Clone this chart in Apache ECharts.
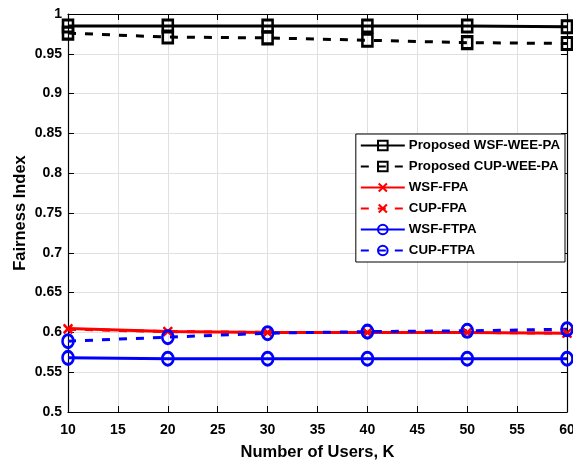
<!DOCTYPE html>
<html>
<head>
<meta charset="utf-8">
<script src="https://cdn.jsdelivr.net/npm/echarts@6/dist/echarts.min.js"></script>
<style>
  html, body { margin: 0; padding: 0; background: #fff; }
  #chart { width: 573px; height: 462px; }
</style>
</head>
<body>
<div id="chart"></div>
<script>
// Number of users K
const users = [10, 20, 30, 40, 50, 60];

// Fairness index per scheme
const wsfWee  = [0.985, 0.985, 0.985, 0.985, 0.985, 0.984];
const cupWee  = [0.976, 0.971, 0.970, 0.967, 0.964, 0.963];
const wsfFpa  = [0.605, 0.601, 0.600, 0.600, 0.600, 0.599];
const cupFpa  = [0.604, 0.601, 0.600, 0.600, 0.600, 0.599];
const wsfFtpa = [0.568, 0.567, 0.567, 0.567, 0.567, 0.567];
const cupFtpa = [0.589, 0.594, 0.599, 0.601, 0.602, 0.604];

const seriesNames = [
  'Proposed WSF-WEE-PA', 'Proposed CUP-WEE-PA',
  'WSF-FPA', 'CUP-FPA', 'WSF-FTPA', 'CUP-FTPA'
];

const FONT = 'Liberation Sans, Arial, sans-serif';
// thick "x" marker and slightly tall ellipse marker
const crossPath = 'path://M0,1.5 L1.5,0 L5,3.5 L8.5,0 L10,1.5 L6.5,5 L10,8.5 L8.5,10 L5,6.5 L1.5,10 L0,8.5 L3.5,5 Z';
const ovalPath = 'path://M5,0 A5,6 0 1 1 5,12 A5,6 0 1 1 5,0 Z';

function pairs(ys) { return users.map((x, i) => [x, ys[i]]); }

function makeSeries(name, ys, color, dashed, symbol, size) {
  const isCross = symbol === crossPath;
  return {
    name: name,
    type: 'line',
    data: pairs(ys),
    symbol: symbol,
    symbolSize: size,
    symbolKeepAspect: false,
    showAllSymbol: true,
    lineStyle: { color: color, width: 3, type: dashed ? [8, 9] : 'solid' },
    itemStyle: isCross
      ? { color: color, borderWidth: 0 }
      : { color: 'rgba(0,0,0,0)', borderColor: color, borderWidth: 2.8 },
    z: dashed ? 3 : 2,
    animation: false
  };
}

const chart = echarts.init(document.getElementById('chart'), null, { renderer: 'canvas' });

const tickLabel = { color: '#000', fontFamily: FONT, fontWeight: 'bold', fontSize: 14 };
const axisName = { color: '#000', fontFamily: FONT, fontWeight: 'bold', fontSize: 16.5 };
const tickStyle = { show: true, inside: true, length: 6, lineStyle: { color: '#000', width: 1 } };
const lineBlack = { color: '#000', width: 1.2 };

chart.setOption({
  backgroundColor: '#fff',
  animation: false,
  grid: { left: 68, right: 6, top: 14, bottom: 50, containLabel: false, outerBoundsMode: 'none' },
  legend: {
    orient: 'vertical',
    right: 8,
    top: 134,
    align: 'left',
    backgroundColor: '#fff',
    borderColor: '#000',
    borderWidth: 1,
    borderRadius: 0,
    padding: [5, 5, 5, 4],
    itemWidth: 44,
    itemHeight: 12,
    itemGap: 8,
    textStyle: { color: '#000', fontFamily: FONT, fontWeight: 'bold', fontSize: 13.3, padding: [0, 0, 0, -1] },
    data: seriesNames
  },
  xAxis: [
    {
      type: 'value', position: 'bottom', min: 10, max: 60, interval: 5,
      name: 'Number of Users, K', nameLocation: 'middle', nameGap: 32,
      nameTextStyle: axisName,
      axisLine: { show: true, lineStyle: lineBlack },
      axisTick: tickStyle,
      axisLabel: Object.assign({ margin: 11 }, tickLabel),
      splitLine: { show: true, lineStyle: { color: '#e0e0e0', width: 1 } }
    },
    {
      type: 'value', position: 'top', min: 10, max: 60, interval: 5,
      axisLine: { show: true, onZero: false, lineStyle: lineBlack },
      axisTick: tickStyle,
      axisLabel: { show: false },
      splitLine: { show: false }
    }
  ],
  yAxis: [
    {
      type: 'value', position: 'left', min: 0.5, max: 1, interval: 0.05,
      name: 'Fairness Index', nameLocation: 'middle', nameGap: 39, nameMoveOverlap: false,
      nameTextStyle: axisName,
      axisLine: { show: true, lineStyle: lineBlack },
      axisTick: tickStyle,
      axisLabel: Object.assign({ margin: 6, formatter: v => String(+v.toFixed(2)) }, tickLabel),
      splitLine: { show: true, lineStyle: { color: '#e0e0e0', width: 1 } }
    },
    {
      type: 'value', position: 'right', min: 0.5, max: 1, interval: 0.05,
      axisLine: { show: true, onZero: false, lineStyle: lineBlack },
      axisTick: tickStyle,
      axisLabel: { show: false },
      splitLine: { show: false }
    }
  ],
  series: [
    makeSeries(seriesNames[0], wsfWee,  '#000', false, 'rect', [10, 12]),
    makeSeries(seriesNames[1], cupWee,  '#000', true,  'rect', [10, 12]),
    makeSeries(seriesNames[2], wsfFpa,  '#ff0000', false, crossPath, 10),
    makeSeries(seriesNames[3], cupFpa,  '#ff0000', true,  crossPath, 10),
    makeSeries(seriesNames[4], wsfFtpa, '#0000ff', false, ovalPath, [11, 13]),
    makeSeries(seriesNames[5], cupFtpa, '#0000ff', true,  ovalPath, [11, 13])
  ]
});
</script>
</body>
</html>
